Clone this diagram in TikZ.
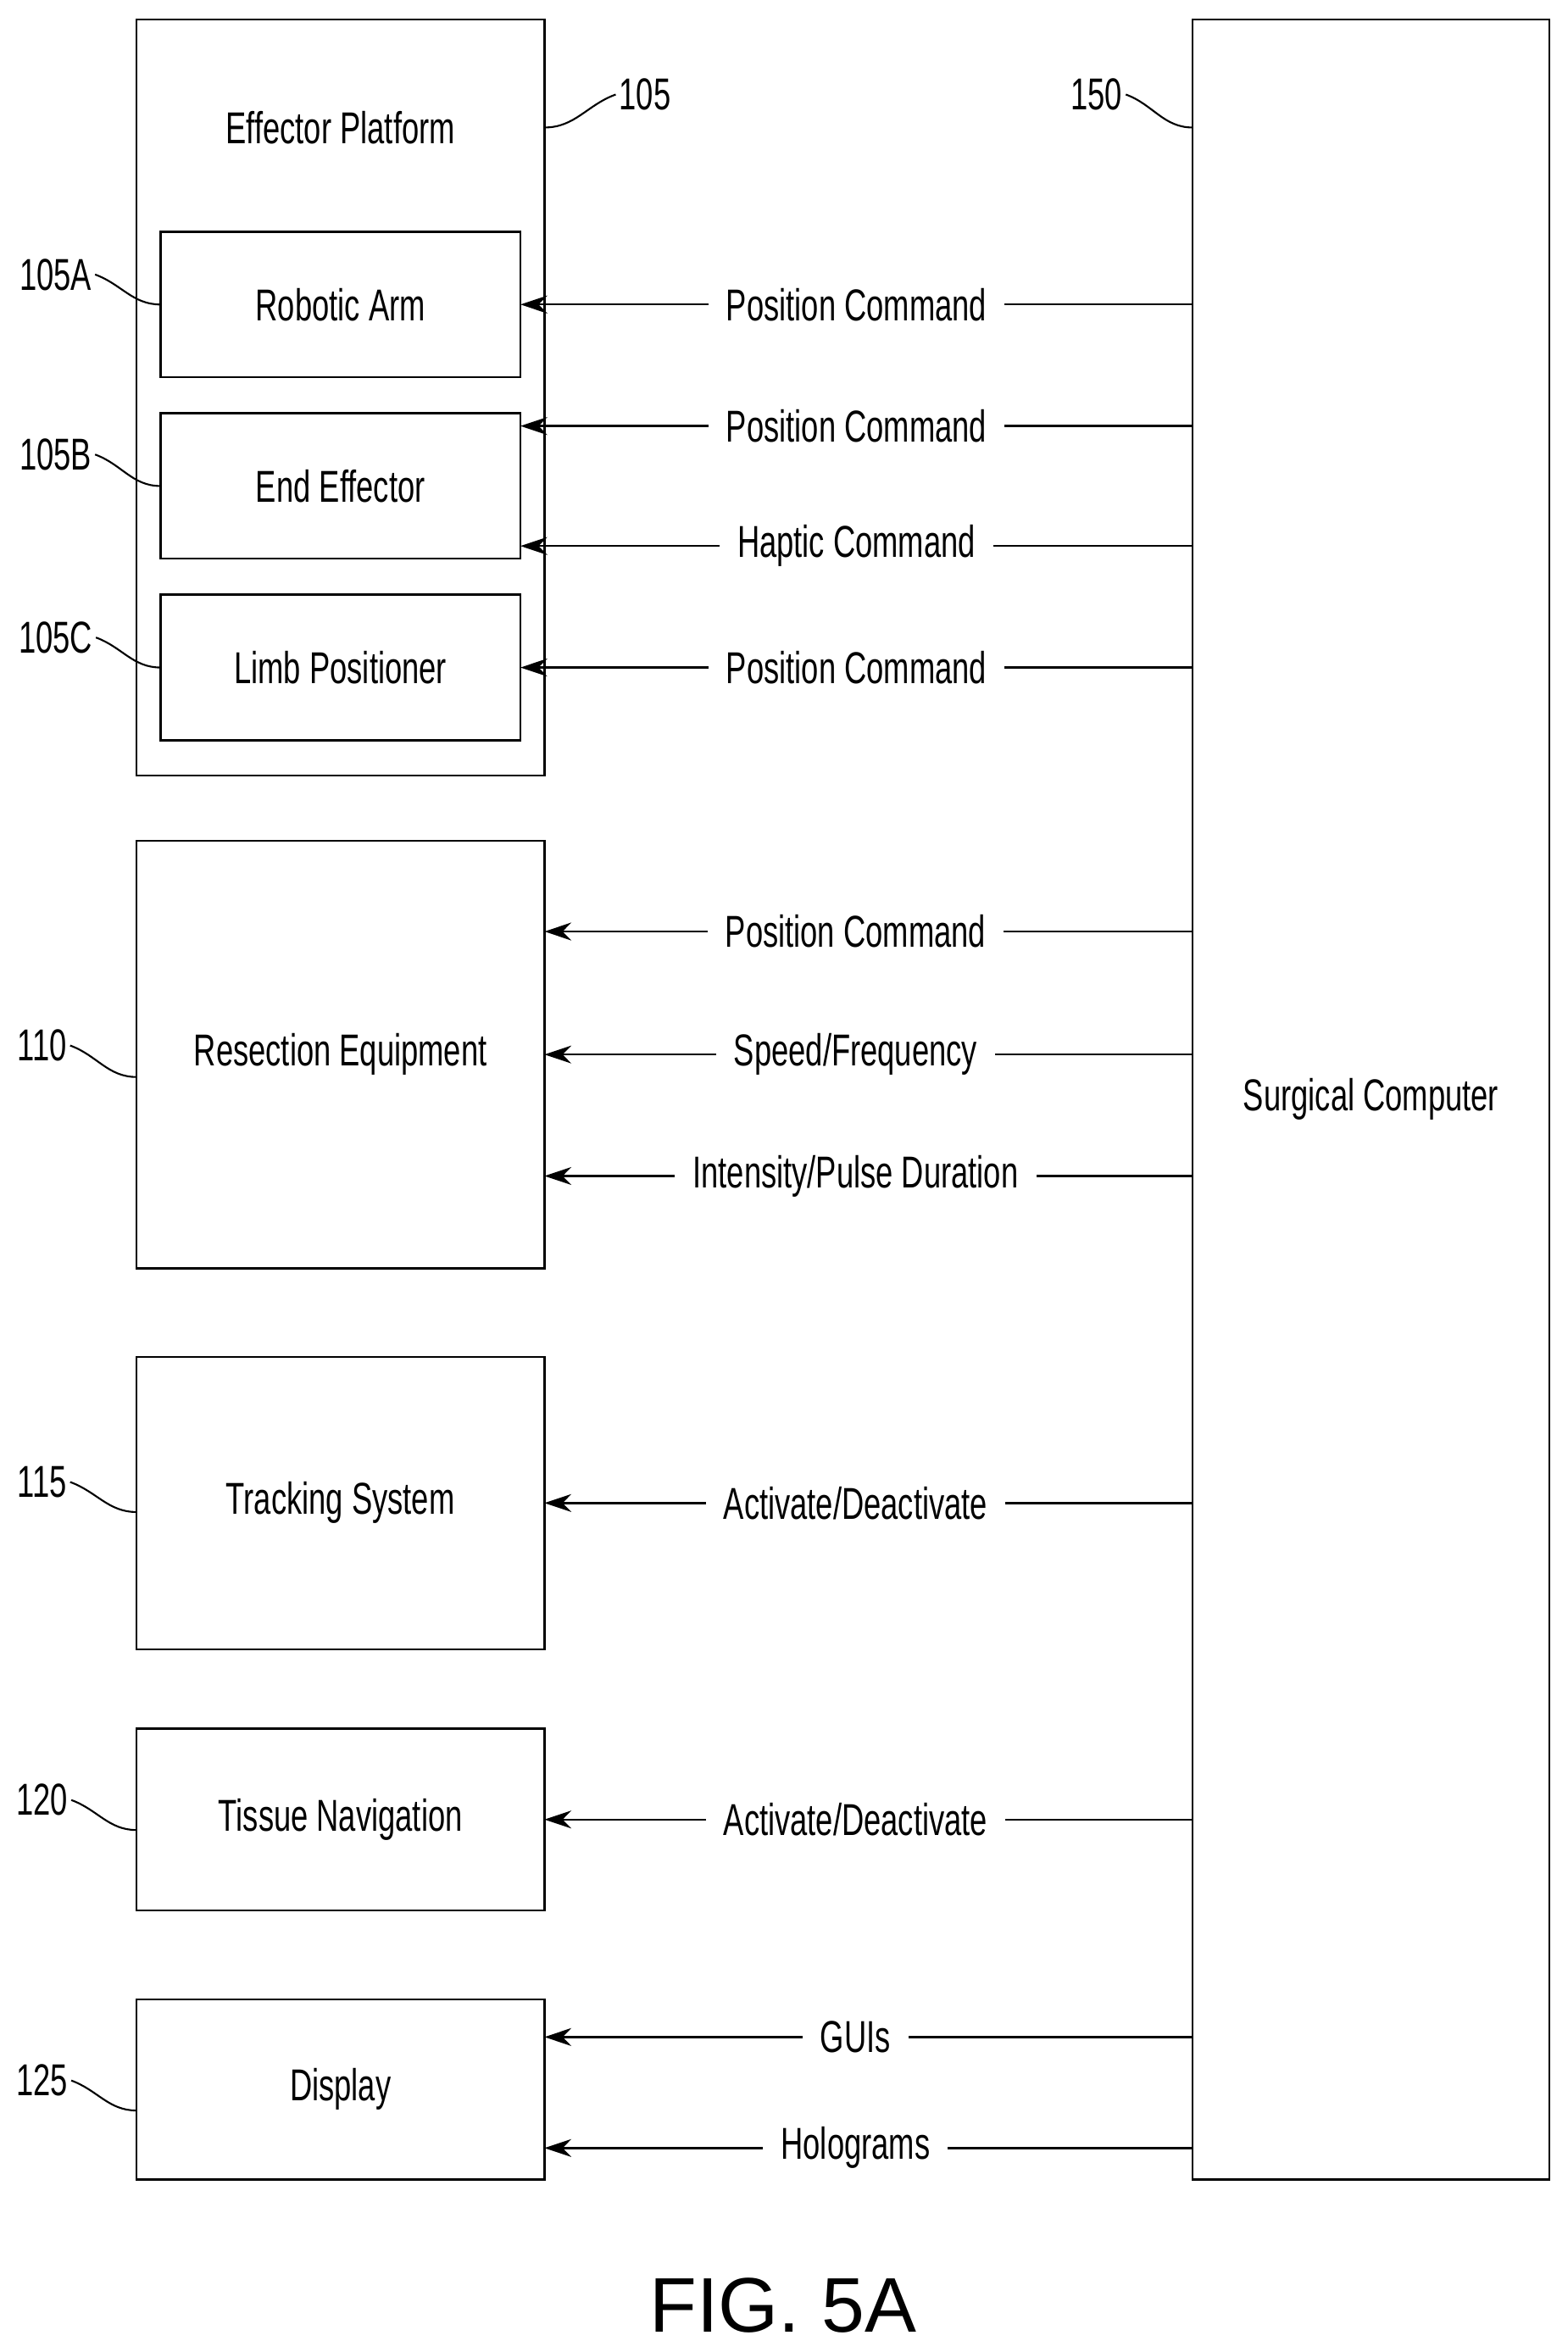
\documentclass[tikz,border=0pt]{standalone}
\usepackage{fontspec}
\usepackage{graphicx}
\setmainfont{Liberation Sans}
\usetikzlibrary{arrows.meta,positioning}
\newcommand{\nt}[1]{\scalebox{.69}[1]{#1}}
\newcommand{\un}{0.017694cm}

\begin{document}
\begin{tikzpicture}
[x=\un,y=-\un,
box/.style={draw,line width=0.7pt,outer sep=0pt},
blk/.style={box,minimum width={272*\un},minimum height={#1*\un},font=\fontsize{15}{18}\selectfont},
sub/.style={box,minimum width={240*\un},minimum height={97*\un},font=\fontsize{15}{18}\selectfont},
lbl/.style={fill=white,inner xsep=6pt,font=\fontsize{15}{18}\selectfont},
ref/.style={font=\fontsize{15}{18}\selectfont,inner sep=1pt},
cmd/.style={line width=0.7pt,{Stealth[length=9pt,width=6pt]}-},
lead/.style={line width=0.6pt}]
\useasboundingbox (0,0) rectangle (1045,1568);
% effector platform
\node[box,minimum width={272*\un},minimum height={504*\un}] (ep) at (227,265) {};
\node[ref] at (227,85) {\nt{Effector Platform}};
\node[sub] (ra) at (227,203) {\nt{Robotic Arm}};
\node[sub] (ee) at (227,324) {\nt{End Effector}};
\node[sub] (lp) at (227,445) {\nt{Limb Positioner}};
% other equipment
\node[blk=285] (re) at (227,703) {\nt{Resection Equipment}};
\node[blk=195] (ts) at (227,1002) {\nt{Tracking System}};
\node[blk=121] (tn) at (227,1213) {\nt{Tissue Navigation}};
\node[blk=120] (dp) at (227,1393) {\nt{Display}};
\node[box,minimum width={238*\un},minimum height={1440*\un},font=\fontsize{15}{18}\selectfont] (sc) at (914,733) {\nt{Surgical Computer}};
% commands
\draw[cmd] (ra.east) -- node[lbl] {\nt{Position Command}} (sc.west |- ra.east);
\draw[cmd] (ee.east |- 0,284) -- node[lbl] {\nt{Position Command}} (sc.west |- 0,284);
\draw[cmd] (ee.east |- 0,364) -- node[lbl] {\nt{Haptic Command}} (sc.west |- 0,364);
\draw[cmd] (lp.east) -- node[lbl] {\nt{Position Command}} (sc.west |- lp.east);
\draw[cmd] (re.east |- 0,621) -- node[lbl,pos=.48] {\nt{Position Command}} (sc.west |- 0,621);
\draw[cmd] (re.east) -- node[lbl,pos=.48] {\nt{Speed/Frequency}} (sc.west |- re.east);
\draw[cmd] (re.east |- 0,784) -- node[lbl,pos=.48] {\nt{Intensity/Pulse Duration}} (sc.west |- 0,784);
\draw[cmd] (ts.east) -- node[lbl,pos=.48] {\nt{Activate/Deactivate}} (sc.west |- ts.east);
\draw[cmd] (tn.east) -- node[lbl,pos=.48] {\nt{Activate/Deactivate}} (sc.west |- tn.east);
\draw[cmd] (dp.east |- 0,1358) -- node[lbl,pos=.48] {\nt{GUIs}} (sc.west |- 0,1358);
\draw[cmd] (dp.east |- 0,1432) -- node[lbl,pos=.48] {\nt{Holograms}} (sc.west |- 0,1432);
% reference numerals
\node[ref] (n105) at (430,63) {\nt{105}};
\node[ref] (n150) at (731,63) {\nt{150}};
\node[ref] (n105a) at (37,183) {\nt{105A}};
\node[ref] (n105b) at (37,303) {\nt{105B}};
\node[ref] (n105c) at (37,425) {\nt{105C}};
\node[ref] (n110) at (28,697) {\nt{110}};
\node[ref] (n115) at (28,988) {\nt{115}};
\node[ref] (n120) at (28,1200) {\nt{120}};
\node[ref] (n125) at (28,1387) {\nt{125}};
\draw[lead] (ep.east |- 0,85) to[out=0,in=200] (n105.west);
\draw[lead] (sc.west |- 0,85) to[out=180,in=-20] (n150.east);
\draw[lead] (ra.west) to[out=180,in=-20] (n105a.east);
\draw[lead] (ee.west) to[out=180,in=-20] (n105b.east);
\draw[lead] (lp.west) to[out=180,in=-20] (n105c.east);
\draw[lead] (re.west |- 0,718) to[out=180,in=-20] (n110.east);
\draw[lead] (ts.west |- 0,1008) to[out=180,in=-20] (n115.east);
\draw[lead] (tn.west |- 0,1220) to[out=180,in=-20] (n120.east);
\draw[lead] (dp.west |- 0,1407) to[out=180,in=-20] (n125.east);
\node[font=\fontsize{26}{30}\selectfont] (fig) at (522,1537) {FIG. 5A};
\end{tikzpicture}
\end{document}
